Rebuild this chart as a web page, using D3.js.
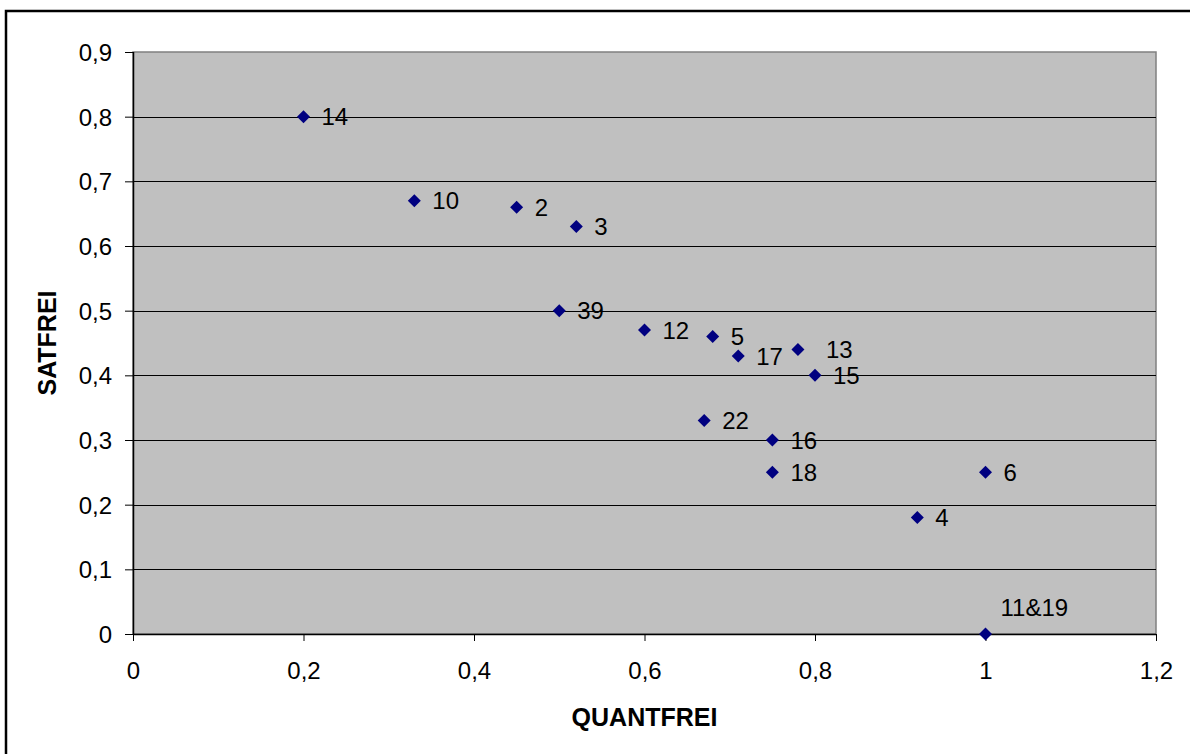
<!DOCTYPE html>
<html>
<head>
<meta charset="utf-8">
<script src="https://cdn.jsdelivr.net/npm/d3@7"></script>
<style>
  body { margin: 0; background: #fff; }
  svg { display: block; font-family: "Liberation Sans", Arial, sans-serif; }
</style>
</head>
<body>
<div id="chart_container"></div>
<script>
// point data
const LABELS = ["14", "10", "2", "3", "39", "12", "5", "17", "13", "15", "22", "16", "18", "6", "4", "11&19"];
const QUANTFREI = [0.2, 0.33, 0.45, 0.52, 0.5, 0.6, 0.68, 0.71, 0.78, 0.8, 0.67, 0.75, 0.75, 1.0, 0.92, 1.0];
const SATFREI = [0.8, 0.67, 0.66, 0.63, 0.5, 0.47, 0.46, 0.43, 0.44, 0.4, 0.33, 0.3, 0.25, 0.25, 0.18, 0.0];
const X_TICKS = [0, 0.2, 0.4, 0.6, 0.8, 1, 1.2];
const Y_TICKS = [0, 0.1, 0.2, 0.3, 0.4, 0.5, 0.6, 0.7, 0.8, 0.9];

// chart dimensions
const W = 1190, H = 754;
const PLOT = Object.freeze({ left: 133, top: 52, right: 1156, bottom: 634 });
const FONT = "24px";

const fmt = (v) => String(v).replace(".", ",");

const data = LABELS.map((label, i) => ({ label, x: QUANTFREI[i], y: SATFREI[i] }));

const svg = d3
  .select("#chart_container")
  .append("svg")
  .attr("width", W)
  .attr("height", H);

// outer chart frame (runs off the right/bottom edge)
svg
  .append("rect")
  .attr("x", 6)
  .attr("y", 11)
  .attr("width", W + 20)
  .attr("height", H + 20)
  .attr("fill", "#fff")
  .attr("stroke", "#000")
  .attr("stroke-width", 2.5);

const x = d3.scaleLinear().domain([0, 1.2]).range([PLOT.left, PLOT.right]);
const y = d3.scaleLinear().domain([0, 0.9]).range([PLOT.bottom, PLOT.top]);

// grey plot area
svg
  .append("rect")
  .attr("x", PLOT.left)
  .attr("y", PLOT.top)
  .attr("width", PLOT.right - PLOT.left)
  .attr("height", PLOT.bottom - PLOT.top)
  .attr("fill", "#c0c0c0")
  .attr("stroke", "#808080")
  .attr("stroke-width", 1.5);

// horizontal gridlines
svg
  .append("g")
  .selectAll("line")
  .data(Y_TICKS.filter((t) => t > 0 && t < 0.9))
  .enter()
  .append("line")
  .attr("x1", PLOT.left)
  .attr("x2", PLOT.right)
  .attr("y1", (d) => Math.round(y(d)) + 0.5)
  .attr("y2", (d) => Math.round(y(d)) + 0.5)
  .attr("stroke", "#000")
  .attr("stroke-width", 1);

// axes
const yAxis = svg
  .append("g")
  .attr("transform", `translate(${PLOT.left},0)`)
  .call(d3.axisLeft(y).tickValues(Y_TICKS).tickSize(8).tickPadding(13).tickFormat(fmt));
const xAxis = svg
  .append("g")
  .attr("transform", `translate(0,${PLOT.bottom})`)
  .call(d3.axisBottom(x).tickValues(X_TICKS).tickSize(7).tickPadding(21).tickFormat(fmt));

[yAxis, xAxis].forEach((ax) => {
  ax.select(".domain").attr("stroke", "#000").attr("stroke-width", 1.5);
  ax.selectAll(".tick line").attr("stroke", "#000");
  ax.selectAll("text")
    .attr("fill", "#000")
    .style("font-size", FONT)
    .style("font-family", "'Liberation Sans', Arial, sans-serif");
});
yAxis.selectAll("text").attr("dy", "0.36em");
xAxis.select(".domain").attr("d", `M${PLOT.left},0.5H${PLOT.right}`);
yAxis.select(".domain").attr("d", `M0.5,${PLOT.bottom}V${PLOT.top}`);

// axis titles
svg
  .append("text")
  .attr("x", (PLOT.left + PLOT.right) / 2)
  .attr("y", 726)
  .attr("text-anchor", "middle")
  .style("font-size", "25px")
  .style("font-weight", 700)
  .text("QUANTFREI");

svg
  .append("text")
  .attr("transform", `translate(56,${(PLOT.top + PLOT.bottom) / 2}) rotate(-90)`)
  .attr("text-anchor", "middle")
  .style("font-size", "25px")
  .style("font-weight", 700)
  .text("SATFREI");

// diamond markers
const diamond = "M0,-6.5L6.5,0L0,6.5L-6.5,0Z";
svg
  .append("g")
  .selectAll("path")
  .data(data)
  .enter()
  .append("path")
  .attr("d", diamond)
  .attr("transform", (d) => `translate(${x(d.x)},${y(d.y)})`)
  .attr("fill", "#000080");

// data labels, most sit to the right; a few are nudged like in the original
const labelShift = { "13": [28, 0], "11&19": [15, -27] };
svg
  .append("g")
  .selectAll("text")
  .data(data)
  .enter()
  .append("text")
  .attr("x", (d) => x(d.x) + (labelShift[d.label] ? labelShift[d.label][0] : 18))
  .attr("y", (d) => y(d.y) + (labelShift[d.label] ? labelShift[d.label][1] : 0))
  .attr("dy", "0.36em")
  .style("font-size", FONT)
  .attr("fill", "#000")
  .text((d) => d.label);
</script>
</body>
</html>
